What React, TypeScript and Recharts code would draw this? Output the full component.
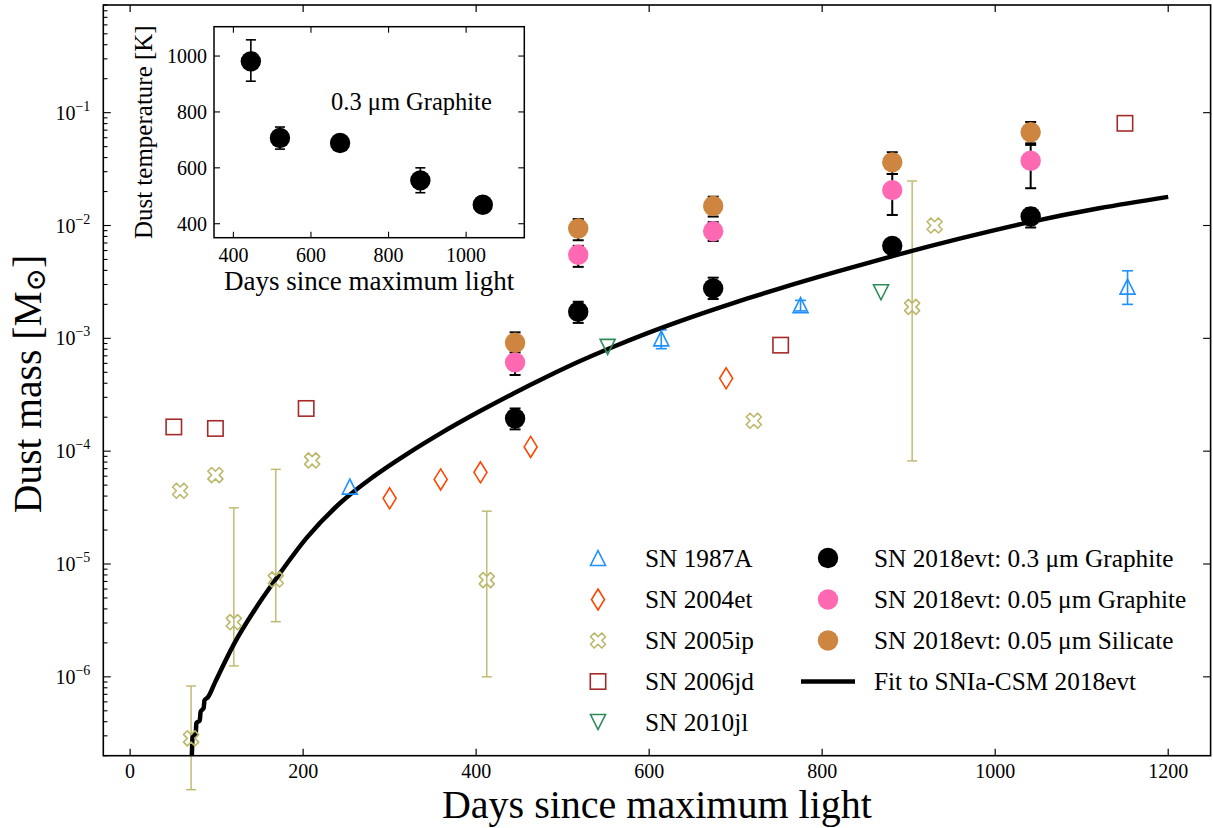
import { ComposedChart, Scatter, Line, XAxis, YAxis, ErrorBar } from "recharts";

const SERIF = '"Liberation Serif", "Times New Roman", "DejaVu Serif", serif';

// plot boxes in page pixels
const MAIN = { left: 103.3, top: 5, right: 1210.6, bottom: 755.7 };
const INSET = { left: 214, top: 26.7, right: 524.3, bottom: 237.7 };

// ---- data (days since max, dust mass in Msun) ----
const SN1987A_DAYS = [254, 614, 775, 1153];
const SN1987A_MASS = [4.85e-5, 1.0e-3, 1.97e-3, 2.87e-3];
const SN1987A_LO = [null, 8.1e-4, 1.75e-3, 2.0e-3];
const SN1987A_HI = [null, 1.19e-3, 2.17e-3, 3.97e-3];

const SN2004ET_DAYS = [300, 359, 405, 463, 689];
const SN2004ET_MASS = [3.82e-5, 5.62e-5, 6.49e-5, 1.09e-4, 4.42e-4];

const SN2005IP_DAYS = [57.8, 70.5, 98.6, 119.9, 168.4, 210.4, 412.3, 721, 904, 930];
const SN2005IP_MASS = [4.46e-5, 2.85e-7, 6.14e-5, 3.05e-6, 7.3e-6, 8.28e-5, 7.2e-6, 1.86e-4, 1.9e-3, 1.0e-2];
const SN2005IP_LO = [null, 1e-7, null, 1.25e-6, 3.08e-6, null, 1.0e-6, null, 8.2e-5, null];
const SN2005IP_HI = [null, 8.3e-7, null, 3.15e-5, 6.9e-5, null, 2.94e-5, null, 2.48e-2, null];

const SN2006JD_DAYS = [50.5, 98.6, 203.5, 752, 1150];
const SN2006JD_MASS = [1.64e-4, 1.59e-4, 2.39e-4, 8.7e-4, 8.05e-2];

const SN2010JL_DAYS = [552, 868];
const SN2010JL_MASS = [8.4e-4, 2.56e-3];

const EVT_DAYS = [445, 518, 674, 881, 1041];
const G03_MASS = [1.95e-4, 1.72e-3, 2.77e-3, 6.6e-3, 1.2e-2];
const G03_LO = [1.56e-4, 1.37e-3, 2.23e-3, 5.7e-3, 9.6e-3];
const G03_HI = [2.39e-4, 2.11e-3, 3.45e-3, 7.6e-3, 1.42e-2];
const G005_MASS = [6.12e-4, 5.5e-3, 8.9e-3, 2.06e-2, 3.75e-2];
const G005_LO = [4.73e-4, 4.3e-3, 7.3e-3, 1.24e-2, 2.14e-2];
const G005_HI = [7.0e-4, 6.6e-3, 1.07e-2, 2.86e-2, 5.35e-2];
const SIL_MASS = [9.14e-4, 9.4e-3, 1.49e-2, 3.63e-2, 6.7e-2];
const SIL_LO = [7.5e-4, 7.4e-3, 1.2e-2, 2.86e-2, 5.18e-2];
const SIL_HI = [1.13e-3, 1.14e-2, 1.8e-2, 4.46e-2, 8.26e-2];

// fit curve
const FIT_DAYS = [
  66, 71.3, 72.2, 75.8, 76.6, 80.5, 81.5, 85, 86, 90, 98.3, 119.4, 152.3, 169.6, 204.3, 242.8, 281.3, 319.9,
  358.4, 404.6, 443.1, 481.7, 520.2, 558.7, 597.3, 635.8, 674.3, 712.9, 751.4, 815.9, 880.3, 960, 1040, 1120, 1200,
];
const FIT_MASS = [
  1.2e-7, 2.0e-7, 3.0e-7, 3.1e-7, 3.9e-7, 4.1e-7, 4.9e-7, 5.3e-7, 6.2e-7, 6.6e-7, 8.98e-7, 1.91e-6, 4.89e-6,
  7.57e-6, 1.714e-5, 3.47e-5, 5.95e-5, 9.43e-5, 1.432e-4, 2.267e-4, 3.247e-4, 4.566e-4, 6.29e-4, 8.42e-4,
  1.107e-3, 1.423e-3, 1.8e-3, 2.249e-3, 2.776e-3, 3.879e-3, 5.333e-3, 7.684e-3, 1.072e-2, 1.42e-2, 1.793e-2,
];

// inset: dust temperature for 0.3 um graphite
const TEMP_DAYS = [445, 520, 675, 882, 1043];
const TEMP_K = [981, 707, 689, 555, 468];
const TEMP_LO = [910, 667, 672, 511, 452];
const TEMP_HI = [1058, 746, 706, 600, 484];

const X_TICKS = [0, 200, 400, 600, 800, 1000, 1200];
const Y_DECADES = [1e-7, 1e-6, 1e-5, 1e-4, 1e-3, 1e-2, 1e-1];
const INSET_X_TICKS = [400, 600, 800, 1000];
const INSET_Y_TICKS = [400, 600, 800, 1000];

const LEGEND_SN = ["SN 1987A", "SN 2004et", "SN 2005ip", "SN 2006jd", "SN 2010jl"];
const LEGEND_EVT = [
  "SN 2018evt: 0.3 \u03bcm Graphite",
  "SN 2018evt: 0.05 \u03bcm Graphite",
  "SN 2018evt: 0.05 \u03bcm Silicate",
  "Fit to SNIa-CSM 2018evt",
];

const C = {
  a87: "#1E90FF",
  et04: "#FF4500",
  ip05: "#BDB76B",
  jd06: "#A52A2A",
  jl10: "#2E8B57",
  pink: "#FF69B4",
  sil: "#CD853F",
};

const Y_TICKS: number[] = [];
Y_DECADES.forEach((d) => {
  for (let k = 1; k <= 9; k++) {
    const v = d * k;
    if (v >= 2e-7 * 0.999 && v <= 0.9 * 1.001) Y_TICKS.push(v);
  }
});

const pts = (d: number[], m: number[]) => d.map((x, i) => ({ d: x, m: m[i] }));
const errPts = (d: number[], m: number[], lo: (number | null)[], hi: (number | null)[]) =>
  d
    .map((x, i) => (lo[i] == null ? null : { d: x, m: m[i], e: [m[i] - (lo[i] as number), (hi[i] as number) - m[i]] }))
    .filter(Boolean) as any[];

// ---- markers ----
const R2 = Math.SQRT1_2;
const PLUS = [[-1, -3], [1, -3], [1, -1], [3, -1], [3, 1], [1, 1], [1, 3], [-1, 3], [-1, 1], [-3, 1], [-3, -1], [-1, -1]];

function Marker({ kind, cx, cy, color }: { kind: string; cx: number; cy: number; color: string }) {
  const sw = 1.6;
  if (cx == null || cy == null) return <g />;
  switch (kind) {
    case "triUp":
      return <polygon points={`${cx},${cy - 7.5} ${cx - 7.5},${cy + 7.5} ${cx + 7.5},${cy + 7.5}`} fill="none" stroke={color} strokeWidth={sw} />;
    case "triDown":
      return <polygon points={`${cx - 7.5},${cy - 7.5} ${cx + 7.5},${cy - 7.5} ${cx},${cy + 7.5}`} fill="none" stroke={color} strokeWidth={sw} />;
    case "diamond":
      return <polygon points={`${cx},${cy - 10.5} ${cx + 6.5},${cy} ${cx},${cy + 10.5} ${cx - 6.5},${cy}`} fill="none" stroke={color} strokeWidth={sw} />;
    case "square":
      return <rect x={cx - 7.7} y={cy - 7.7} width={15.4} height={15.4} fill="none" stroke={color} strokeWidth={sw} />;
    case "x": {
      const s = 16 / 6; // plus of total length 16, rotated 45deg
      const p = PLUS.map(([x, y]) => `${cx + (x - y) * R2 * s},${cy + (x + y) * R2 * s}`).join(" ");
      return <polygon points={p} fill="none" stroke={color} strokeWidth={sw} strokeLinejoin="round" />;
    }
    case "dot":
    default:
      return <circle cx={cx} cy={cy} r={10.2} fill={color} />;
  }
}

const shape = (kind: string, color: string) => (p: any) => <Marker kind={kind} cx={p.cx} cy={p.cy} color={color} />;
const noShape = () => <g />;

// ---- ticks ----
const isDecade = (v: number) => Math.abs(Math.log10(v) - Math.round(Math.log10(v))) < 1e-6;

function MainXTick(props: any) {
  const { x, y, payload } = props;
  return (
    <g>
      <line x1={x} x2={x} y1={y} y2={y - 7} stroke="#000" strokeWidth={1.2} />
      <line x1={x} x2={x} y1={MAIN.top} y2={MAIN.top + 7} stroke="#000" strokeWidth={1.2} />
      <text x={x} y={y + 22.5} textAnchor="middle" fontSize={20} fontFamily={SERIF} fill="#000">
        {payload.value}
      </text>
    </g>
  );
}

function MainYTick(props: any) {
  const { x, y, payload } = props;
  const v = payload.value;
  const major = isDecade(v);
  const len = major ? 7.5 : 4.2;
  const exp = Math.round(Math.log10(v));
  return (
    <g>
      <line x1={x} x2={x + len} y1={y} y2={y} stroke="#000" strokeWidth={1.1} />
      {major && <line x1={MAIN.right - len} x2={MAIN.right} y1={y} y2={y} stroke="#000" strokeWidth={1.1} />}
      {major && (
        <text x={x - 13} y={y + 7} textAnchor="end" fontSize={20} fontFamily={SERIF} fill="#000">
          10
          <tspan dy={-9} fontSize={14}>
            {"\u2212" + Math.abs(exp)}
          </tspan>
        </text>
      )}
    </g>
  );
}

function InsetXTick(props: any) {
  const { x, y, payload } = props;
  return (
    <g>
      <line x1={x} x2={x} y1={y} y2={y - 6} stroke="#000" strokeWidth={1.1} />
      <line x1={x} x2={x} y1={INSET.top} y2={INSET.top + 6} stroke="#000" strokeWidth={1.1} />
      <text x={x} y={y + 24} textAnchor="middle" fontSize={20} fontFamily={SERIF} fill="#000">
        {payload.value}
      </text>
    </g>
  );
}

function InsetYTick(props: any) {
  const { x, y, payload } = props;
  return (
    <g>
      <line x1={x} x2={x + 6} y1={y} y2={y} stroke="#000" strokeWidth={1.1} />
      <line x1={INSET.right - 6} x2={INSET.right} y1={y} y2={y} stroke="#000" strokeWidth={1.1} />
      <text x={x - 7} y={y + 7} textAnchor="end" fontSize={20} fontFamily={SERIF} fill="#000">
        {payload.value}
      </text>
    </g>
  );
}

// ---- legend ----
const LEG_SN_SHAPES: [string, string][] = [
  ["triUp", C.a87],
  ["diamond", C.et04],
  ["x", C.ip05],
  ["square", C.jd06],
  ["triDown", C.jl10],
];
const LEG_EVT_COLORS = ["#000", C.pink, C.sil];
const LEG_ROWS = [558, 599.5, 640.5, 681.5, 722];

function LegendBox() {
  return (
    <g fontFamily={SERIF} fontSize={25.3} fill="#000">
      {LEGEND_SN.map((t, i) => (
        <g key={t}>
          <Marker kind={LEG_SN_SHAPES[i][0]} cx={598} cy={LEG_ROWS[i]} color={LEG_SN_SHAPES[i][1]} />
          <text x={645} y={LEG_ROWS[i] + 8.5}>{t}</text>
        </g>
      ))}
      {LEGEND_EVT.map((t, i) => (
        <g key={t}>
          {i < 3 ? (
            <Marker kind="dot" cx={828} cy={LEG_ROWS[i]} color={LEG_EVT_COLORS[i]} />
          ) : (
            <line x1={801} x2={855} y1={LEG_ROWS[i]} y2={LEG_ROWS[i]} stroke="#000" strokeWidth={4.5} />
          )}
          <text x={874} y={LEG_ROWS[i] + 8.5}>{t}</text>
        </g>
      ))}
    </g>
  );
}

export default function App() {
  const W = 1213;
  const H = 828;
  return (
    <div style={{ position: "absolute", left: 0, top: 0, width: W, height: H, background: "#fff" }}>
      <div style={{ position: "absolute", left: 0, top: 0 }}>
        <ComposedChart
          width={W}
          height={H}
          margin={{ top: MAIN.top, right: W - MAIN.right, bottom: H - MAIN.bottom - 40, left: MAIN.left - 100 }}
        >
          <XAxis
            type="number"
            dataKey="d"
            domain={[-31, 1249]}
            allowDataOverflow
            ticks={X_TICKS}
            interval={0}
            height={40}
            axisLine={false}
            tickLine={false}
            tickSize={0}
            tickMargin={0}
            tick={MainXTick}
          />
          <YAxis
            type="number"
            dataKey="m"
            scale="log"
            domain={[2e-7, 0.9]}
            allowDataOverflow
            ticks={Y_TICKS}
            interval={0}
            width={100}
            axisLine={false}
            tickLine={false}
            tickSize={0}
            tickMargin={0}
            tick={MainYTick}
          />
          <Scatter data={pts(SN1987A_DAYS, SN1987A_MASS)} shape={shape("triUp", C.a87)} isAnimationActive={false} />
          <Scatter data={errPts(SN1987A_DAYS, SN1987A_MASS, SN1987A_LO, SN1987A_HI)} shape={noShape} isAnimationActive={false}>
            <ErrorBar dataKey="e" direction="y" width={5.5} stroke={C.a87} strokeWidth={1.6} isAnimationActive={false} />
          </Scatter>
          <Scatter data={pts(SN2004ET_DAYS, SN2004ET_MASS)} shape={shape("diamond", C.et04)} isAnimationActive={false} />
          <Scatter data={pts(SN2005IP_DAYS, SN2005IP_MASS)} shape={shape("x", C.ip05)} isAnimationActive={false} />
          <Scatter data={errPts(SN2005IP_DAYS, SN2005IP_MASS, SN2005IP_LO, SN2005IP_HI)} shape={noShape} isAnimationActive={false}>
            <ErrorBar dataKey="e" direction="y" width={5} stroke={C.ip05} strokeWidth={1.4} isAnimationActive={false} />
          </Scatter>
          <Scatter data={pts(SN2006JD_DAYS, SN2006JD_MASS)} shape={shape("square", C.jd06)} isAnimationActive={false} />
          <Scatter data={pts(SN2010JL_DAYS, SN2010JL_MASS)} shape={shape("triDown", C.jl10)} isAnimationActive={false} />
          <Line
            data={pts(FIT_DAYS, FIT_MASS)}
            dataKey="m"
            type="monotone"
            dot={false}
            stroke="#000"
            strokeWidth={4.5}
            isAnimationActive={false}
          />
          <Scatter data={pts(EVT_DAYS, G03_MASS)} shape={shape("dot", "#000")} isAnimationActive={false} />
          <Scatter data={pts(EVT_DAYS, G005_MASS)} shape={shape("dot", C.pink)} isAnimationActive={false} />
          <Scatter data={pts(EVT_DAYS, SIL_MASS)} shape={shape("dot", C.sil)} isAnimationActive={false} />
          <Scatter data={errPts(EVT_DAYS, G03_MASS, G03_LO, G03_HI)} shape={noShape} isAnimationActive={false}>
            <ErrorBar dataKey="e" direction="y" width={5.5} stroke="#000" strokeWidth={2} isAnimationActive={false} />
          </Scatter>
          <Scatter data={errPts(EVT_DAYS, G005_MASS, G005_LO, G005_HI)} shape={noShape} isAnimationActive={false}>
            <ErrorBar dataKey="e" direction="y" width={5.5} stroke="#000" strokeWidth={2} isAnimationActive={false} />
          </Scatter>
          <Scatter data={errPts(EVT_DAYS, SIL_MASS, SIL_LO, SIL_HI)} shape={noShape} isAnimationActive={false}>
            <ErrorBar dataKey="e" direction="y" width={5.5} stroke="#000" strokeWidth={2} isAnimationActive={false} />
          </Scatter>
        </ComposedChart>
      </div>

      <div style={{ position: "absolute", left: 0, top: 0 }}>
        <ComposedChart
          width={540}
          height={300}
          margin={{ top: INSET.top, right: 540 - INSET.right, bottom: 300 - INSET.bottom - 30, left: INSET.left - 60 }}
        >
          <XAxis
            type="number"
            dataKey="d"
            domain={[350, 1150]}
            allowDataOverflow
            ticks={INSET_X_TICKS}
            interval={0}
            height={30}
            axisLine={false}
            tickLine={false}
            tickSize={0}
            tickMargin={0}
            tick={InsetXTick}
          />
          <YAxis
            type="number"
            dataKey="t"
            domain={[350, 1105]}
            allowDataOverflow
            ticks={INSET_Y_TICKS}
            interval={0}
            width={60}
            axisLine={false}
            tickLine={false}
            tickSize={0}
            tickMargin={0}
            tick={InsetYTick}
          />
          <Scatter
            data={TEMP_DAYS.map((d, i) => ({ d, t: TEMP_K[i], e: [TEMP_K[i] - TEMP_LO[i], TEMP_HI[i] - TEMP_K[i]] }))}
            shape={shape("dot", "#000")}
            isAnimationActive={false}
          >
            <ErrorBar dataKey="e" direction="y" width={5} stroke="#000" strokeWidth={1.6} isAnimationActive={false} />
          </Scatter>
        </ComposedChart>
      </div>

      <svg width={W} height={H} style={{ position: "absolute", left: 0, top: 0, pointerEvents: "none" }}>
        <rect
          x={MAIN.left}
          y={MAIN.top}
          width={MAIN.right - MAIN.left}
          height={MAIN.bottom - MAIN.top}
          fill="none"
          stroke="#000"
          strokeWidth={1.6}
        />
        <rect
          x={INSET.left}
          y={INSET.top}
          width={INSET.right - INSET.left}
          height={INSET.bottom - INSET.top}
          fill="none"
          stroke="#000"
          strokeWidth={1.5}
        />
        <text x={(MAIN.left + MAIN.right) / 2} y={818} textAnchor="middle" fontSize={40} fontFamily={SERIF}>
          Days since maximum light
        </text>
        <text transform="translate(41,384) rotate(-90)" textAnchor="middle" fontSize={39.5} fontFamily={SERIF}>
          Dust mass [M
          <tspan fontSize={28} dy={4} fontFamily='"DejaVu Serif", "DejaVu Sans", serif'>
            {"\u2299"}
          </tspan>
          <tspan dy={-4}>]</tspan>
        </text>
        <text x={(INSET.left + INSET.right) / 2} y={290} textAnchor="middle" fontSize={27} fontFamily={SERIF}>
          Days since maximum light
        </text>
        <text transform={`translate(152,${(INSET.top + INSET.bottom) / 2}) rotate(-90)`} textAnchor="middle" fontSize={25} fontFamily={SERIF}>
          Dust temperature [K]
        </text>
        <text x={331} y={110} fontSize={24.5} fontFamily={SERIF}>
          0.3 {"\u03bc"}m Graphite
        </text>
        <LegendBox />
      </svg>
    </div>
  );
}
